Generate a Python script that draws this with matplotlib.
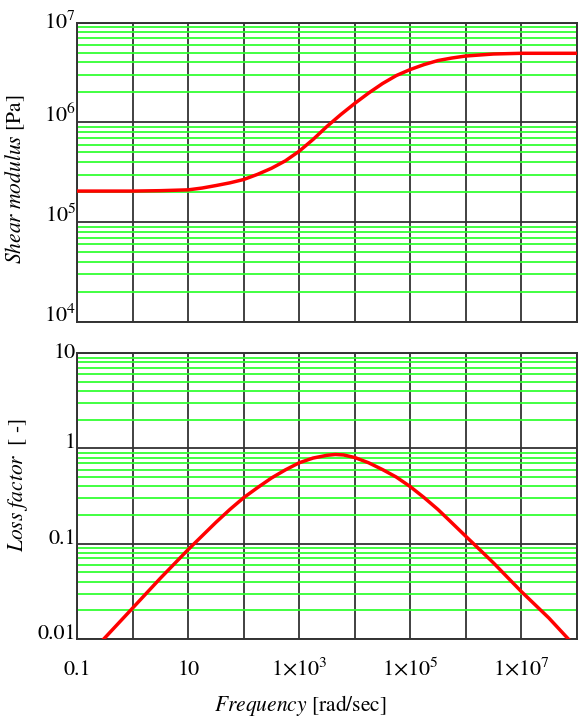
import matplotlib.pyplot as plt
from matplotlib.ticker import LogLocator, NullFormatter

plt.rcParams['font.family'] = ['STIXGeneral', 'DejaVu Serif']
plt.rcParams['mathtext.fontset'] = 'stix'

### データ
freq_g = [0.1, 1, 3.16, 5.62, 10, 17.8, 31.6, 56.2, 100, 178, 316, 562, 1e3,
          1.78e3, 3.16e3, 5.62e3, 1e4, 1.78e4, 3.16e4, 5.62e4, 1e5, 1.78e5,
          3.16e5, 5.62e5, 1e6, 3.16e6, 1e7, 1e8]
shear = [2.05e5, 2.05e5, 2.07e5, 2.09e5, 2.11e5, 2.20e5, 2.33e5, 2.48e5,
         2.68e5, 3.02e5, 3.47e5, 4.12e5, 5.15e5, 6.76e5, 9.12e5, 1.20e6,
         1.55e6, 1.97e6, 2.45e6, 2.95e6, 3.39e6, 3.80e6, 4.17e6, 4.42e6,
         4.63e6, 4.85e6, 4.93e6, 4.93e6]

freq_l = [0.3, 1, 3.16, 10, 31.6, 56.2, 100, 178, 316, 562, 1e3, 1.78e3,
          3.16e3, 4.47e3, 6.31e3, 1e4, 1.78e4, 3.16e4, 5.62e4, 1e5, 1.78e5,
          3.16e5, 5.62e5, 1e6, 1.78e6, 3.16e6, 1e7, 3.16e7, 7.08e7]
loss = [0.01, 0.0212, 0.0436, 0.0871, 0.168, 0.229, 0.305, 0.389, 0.49, 0.596,
        0.708, 0.794, 0.848, 0.865, 0.855, 0.804, 0.708, 0.601, 0.501, 0.398,
        0.305, 0.229, 0.166, 0.120, 0.087, 0.063, 0.0316, 0.0166, 0.01]

x_decades = [0.1, 1, 10, 100, 1e3, 1e4, 1e5, 1e6, 1e7, 1e8]
x_labels = ["0.1", "", "10", "", r"$1{\times}10^{3}$", "", r"$1{\times}10^{5}$",
            "", r"$1{\times}10^{7}$", ""]

g_ticks = [1e4, 1e5, 1e6, 1e7]
g_labels = [r"$10^{4}$", r"$10^{5}$", r"$10^{6}$", r"$10^{7}$"]
l_ticks = [0.01, 0.1, 1, 10]
l_labels = ["0.01", "0.1", "1", "10"]

fig = plt.figure(figsize=(5.84, 7.19), dpi=100)
ax1 = fig.add_axes([0.1324, 0.5522, 0.855, 0.4163])
ax2 = fig.add_axes([0.1324, 0.1113, 0.855, 0.3974])

for ax in (ax1, ax2):
    ax.set_xscale('log')
    ax.set_yscale('log')
    ax.set_xlim(0.1, 1e8)
    ax.set_xticks(x_decades)
    ax.xaxis.set_minor_locator(LogLocator(base=10, subs=[], numticks=30))
    ax.yaxis.set_minor_locator(LogLocator(base=10, subs=range(2, 10), numticks=30))
    ax.yaxis.set_minor_formatter(NullFormatter())
    ax.grid(which='minor', axis='y', color='#33ff33', linewidth=1.3)
    ax.grid(which='major', axis='both', color='#333333', linewidth=1.3)
    ax.tick_params(which='both', length=0, labelsize=16)
    ax.tick_params(axis='y', pad=1)
    for s in ax.spines.values():
        s.set_color('#333333')
        s.set_linewidth(1.4)

### 上: せん断弾性率
ax1.plot(freq_g, shear, color='red', linewidth=2.5, zorder=5)
ax1.set_ylim(1e4, 1e7)
ax1.set_yticks(g_ticks)
ax1.set_yticklabels(g_labels)
ax1.set_xticklabels([])
ax1.set_ylabel(r"$\mathit{Shear\ modulus}$ [Pa]", fontsize=15.5)
ax1.yaxis.set_label_coords(-0.1007, 0.478)

### 下: 損失係数
ax2.plot(freq_l, loss, color='red', linewidth=2.5, zorder=5)
ax2.set_ylim(0.01, 10)
ax2.set_yticks(l_ticks)
ax2.set_yticklabels(l_labels)
ax2.set_xticklabels(x_labels)
ax2.tick_params(axis='x', pad=26)
ax2.set_ylabel(r"$\mathit{Loss\ factor}$  [ -]", fontsize=15.5)
ax2.yaxis.set_label_coords(-0.095, 0.537)
ax2.set_xlabel(r"$\mathit{Frequency}$ [rad/sec]", fontsize=15.5)
ax2.xaxis.set_label_coords(0.446, -0.19)

### 目盛ラベルの位置調整
for ax, top in ((ax1, r"$10^{7}$"), (ax2, "10")):
    for t in ax.get_yticklabels():
        t.set_va('center' if t.get_text() == top else 'baseline')
for t in ax2.get_xticklabels():
    t.set_va('baseline')

plt.savefig('out.png', dpi=100)
